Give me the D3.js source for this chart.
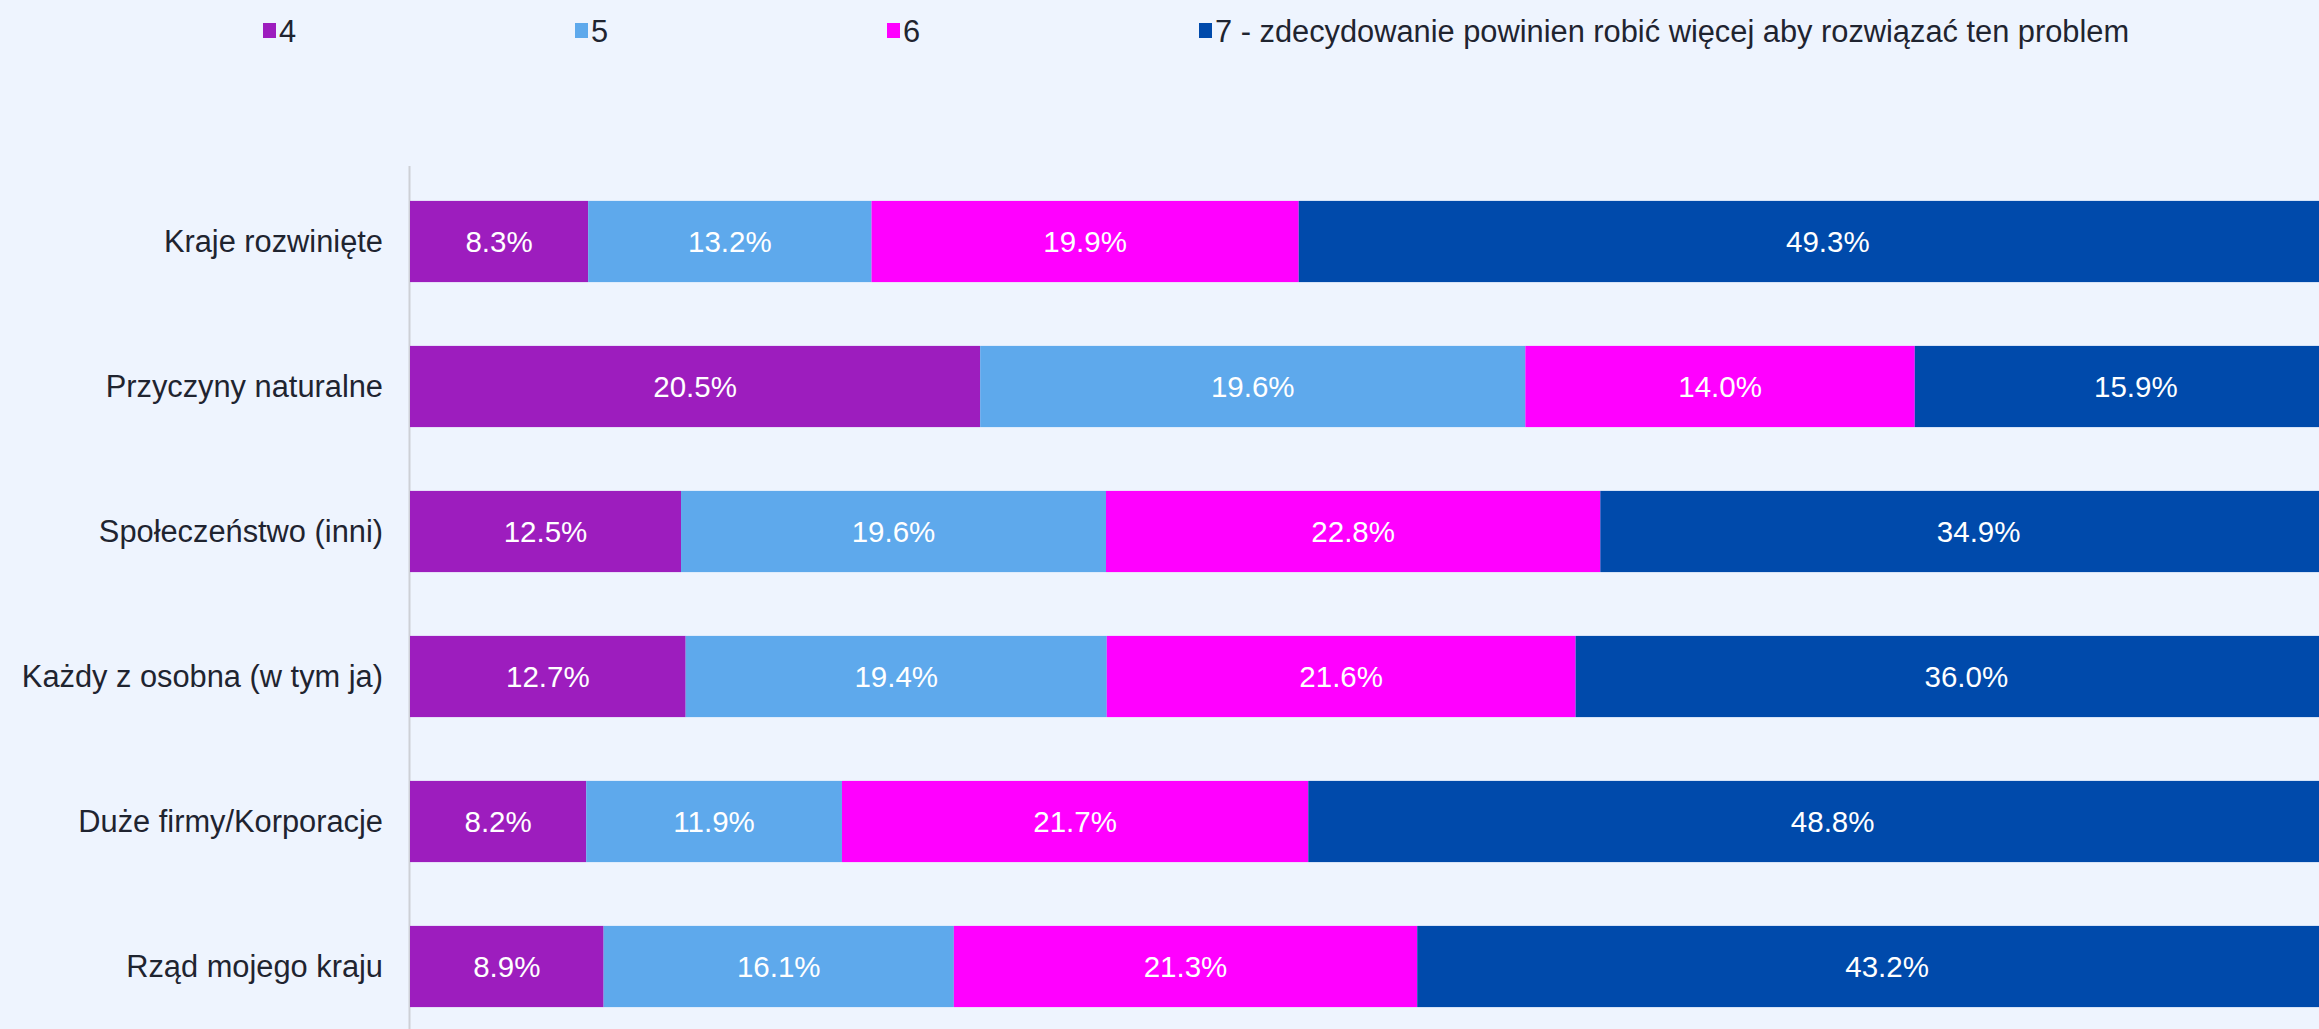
<!DOCTYPE html>
<html><head><meta charset="utf-8">
<script src="https://cdn.jsdelivr.net/npm/d3@7"></script>
<style>
html,body{margin:0;padding:0;background:#EEF4FE;}
svg{display:block;font-family:"Liberation Sans",Arial,sans-serif;}
</style></head>
<body>
<svg id="chart" width="2319" height="1029"></svg>
<script>
const categories = ["Kraje rozwinięte","Przyczyny naturalne","Społeczeństwo (inni)","Każdy z osobna (w tym ja)","Duże firmy/Korporacje","Rząd mojego kraju"];
const seriesKeys = ["4","5","6","7"];
const seriesNames = ["4","5","6","7 - zdecydowanie powinien robić więcej aby rozwiązać ten problem"];
const values4 = [8.3,20.5,12.5,12.7,8.2,8.9];
const values5 = [13.2,19.6,19.6,19.4,11.9,16.1];
const values6 = [19.9,14.0,22.8,21.6,21.7,21.3];
const values7 = [49.3,15.9,34.9,36.0,48.8,43.2];
const colors = ["#9D1DBE","#5EA9EC","#FF00FF","#004AAB"];

const rows = categories.map((c,i)=>({cat:c,"4":values4[i],"5":values5[i],"6":values6[i],"7":values7[i]}));
const stacked = d3.stack().keys(seriesKeys).offset(d3.stackOffsetExpand)(rows);

const svg = d3.select("#chart");
const W = 2319, H = 1029;
const x = d3.scaleLinear().domain([0,1]).range([410,2357]);
const y = d3.scaleBand().domain(categories).range([169,169+145*6]).paddingInner(0.44).paddingOuter(0.22);
const color = d3.scaleOrdinal().domain(seriesKeys).range(colors);

// axis line
svg.append("line").attr("x1",409.5).attr("x2",409.5).attr("y1",166).attr("y2",H)
  .attr("stroke","#CDD0D6").attr("stroke-width",2);

const g = svg.append("g");
stacked.forEach((s,si)=>{
  const sg = g.append("g");
  sg.selectAll("rect").data(s).join("rect")
    .attr("x",d=>x(d[0])).attr("width",d=>x(d[1])-x(d[0]))
    .attr("y",d=>y(d.data.cat)).attr("height",y.bandwidth())
    .attr("fill",color(s.key));
  sg.selectAll("text").data(s).join("text")
    .attr("x",d=>(x(d[0])+x(d[1]))/2).attr("y",d=>y(d.data.cat)+y.bandwidth()/2)
    .attr("text-anchor","middle").attr("dominant-baseline","central")
    .attr("font-size",29.5).attr("fill","#FFFFFF")
    .text(d=>d.data[s.key].toFixed(1)+"%");
});

// category labels
svg.append("g").selectAll("text").data(categories).join("text")
  .attr("x",383).attr("y",d=>y(d)+y.bandwidth()/2)
  .attr("text-anchor","end").attr("dominant-baseline","central")
  .attr("font-size",30.8).attr("fill","#1F2430").text(d=>d);

// legend
const lg = svg.append("g");
seriesKeys.forEach((k,i)=>{
  const lx = 263 + i*312;
  lg.append("rect").attr("x",lx).attr("y",23).attr("width",13).attr("height",15).attr("fill",color(k));
  lg.append("text").attr("x",lx+16).attr("y",31).attr("dominant-baseline","central")
    .attr("font-size",30.8).attr("fill","#1F2430").text(seriesNames[i]);
});
</script>
</body></html>
